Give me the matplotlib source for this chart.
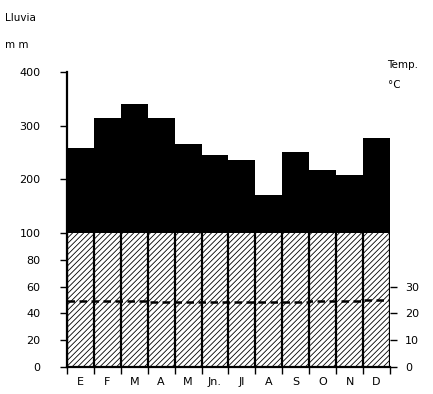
import numpy as np
import matplotlib.pyplot as plt

meses = ['E', 'F', 'M', 'A', 'M', 'Jn.', 'Jl', 'A', 'S', 'O', 'N', 'D']
lluvia = [258, 315, 341, 315, 266, 246, 236, 171, 251, 218, 208, 277]
temp = [24.5, 24.5, 24.5, 24.4, 24.3, 24.3, 24.3, 24.4, 24.4, 24.5, 24.6, 24.9]
yticks_mm = [0, 20, 40, 60, 80, 100, 200, 300, 400]
yticks_temp = [0, 10, 20, 30]


def escala(v):
    # por encima de 100 mm la escala se reduce
    v = np.asarray(v, dtype=float)
    return np.where(v <= 100, v, 100 + (v - 100) * 0.4)


fig = plt.figure(figsize=(4.33, 3.94), dpi=100)
ax = fig.add_axes([0.1547, 0.0685, 0.9007 - 0.1547, 0.7485])

x = np.arange(12)
plt.rcParams['hatch.linewidth'] = 0.6

# zona humeda (0-100) rayada
ax.bar(x + 0.5, 100, width=1, facecolor='white', edgecolor='black',
       hatch='//////', linewidth=0)
# exceso por encima de 100 mm en negro
ax.bar(x + 0.5, escala(lluvia) - 100, bottom=100, width=1, color='black',
       linewidth=0)
ax.vlines(np.arange(13), 0, 100, color='black', lw=1.6)

# temperatura (10 C = 20 mm)
t = np.array(temp) * 2
ax.step(np.arange(13), np.append(t, t[-1]), where='post', color='black',
        ls=(0, (3, 1.8)), lw=1.8)

ax.set_xlim(0, 12)
ax.set_ylim(0, float(escala(400)))

for s in ['top', 'right']:
    ax.spines[s].set_visible(False)
ax.spines['left'].set_linewidth(1.6)
ax.spines['bottom'].set_linewidth(1.6)

ax.set_yticks(escala(yticks_mm))
ax.set_yticklabels([str(v) for v in yticks_mm], fontsize=8)
ax.tick_params(axis='y', length=5, width=1, pad=14)

ax.set_xticks(np.arange(13))
ax.set_xticklabels([])
ax.set_xticks(x + 0.5, minor=True)
ax.set_xticklabels(meses, minor=True, fontsize=8)
ax.tick_params(axis='x', which='major', length=5, width=1)
ax.tick_params(axis='x', which='minor', length=0, pad=7)

ax2 = ax.twinx()
ax2.set_ylim(ax.get_ylim())
for s in ['top', 'right', 'left', 'bottom']:
    ax2.spines[s].set_visible(False)
ax2.set_yticks([v * 2 for v in yticks_temp])
ax2.set_yticklabels([str(v) for v in yticks_temp], fontsize=8)
ax2.tick_params(axis='y', length=5, width=1, pad=6)

fig.text(0.012, 0.955, 'Lluvia', fontsize=7.5, va='center')
fig.text(0.012, 0.885, 'm m', fontsize=7.5, va='center')
fig.text(0.895, 0.835, 'Temp.', fontsize=7.5, va='center')
fig.text(0.895, 0.785, '°C', fontsize=7.5, va='center')

fig.savefig('out.png', dpi=100)
